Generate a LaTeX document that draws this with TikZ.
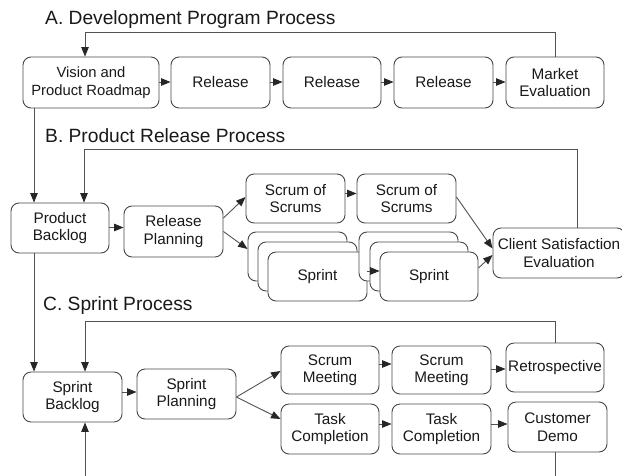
\documentclass[tikz,border=0pt]{standalone}
\usepackage{fontspec}
\setmainfont{Liberation Sans}
\usetikzlibrary{arrows.meta}
\begin{document}
\begin{tikzpicture}[x=1pt,y=-1pt,
  bx/.style={draw=black!72, line width=0.9pt, rounded corners=8pt, fill=white, inner sep=0pt,
    minimum width=99pt, minimum height=50pt, align=center,
    font=\fontsize{15.3}{17.5}\selectfont, text=black!90},
  ln/.style={draw=black!68, line width=0.9pt},
  arr/.style={ln, -{Triangle[length=9.5pt,width=7.5pt,color=black!85]}},
  ttl/.style={anchor=base west, inner sep=0pt, font=\fontsize{19.2}{22}\selectfont, text=black!90}]
\useasboundingbox (0,0) rectangle (622,475);

% titles
\node[ttl] (ta) at (45,24) {A. Development Program Process};
\node[ttl] (tb) at (45,142) {B. Product Release Process};
\node[ttl] (tc) at (43,310) {C. Sprint Process};

% helper coordinates
\coordinate (ya) at (0,32);
\coordinate (xa) at (85,0);
\coordinate (xl) at (34,0);
\coordinate (yb) at (0,149);
\coordinate (xb) at (577,0);
\coordinate (xb2) at (84,0);
\coordinate (yc) at (0,321);
\coordinate (xr) at (555,0);
\coordinate (bot) at (0,480);

% ---- A
\node[bx, minimum width=136pt, minimum height=51pt, font=\fontsize{14.8}{17.4}\selectfont] (vision) at (91,82.5) {Vision and\\Product Roadmap};
\node[bx, minimum height=51pt] (rel1) at (220.5,82.5) {Release};
\node[bx, minimum width=98pt, minimum height=51pt] (rel2) at (332,82.5) {Release};
\node[bx, minimum height=51pt] (rel3) at (443.5,82.5) {Release};
\node[bx, minimum width=98pt, minimum height=51pt] (market) at (555,82.5) {Market\\Evaluation};

\coordinate (y1) at (0,82);
\draw[arr] (vision.east |- y1) -- (rel1.west |- y1);
\draw[arr] (rel1.east |- y1) -- (rel2.west |- y1);
\draw[arr] (rel2.east |- y1) -- (rel3.west |- y1);
\draw[arr] (rel3.east |- y1) -- (market.west |- y1);
\draw[arr] (market.north) -- (market.north |- ya) -- (xa |- ya) -- (vision.north -| xa);

% ---- B
\node[bx, minimum width=98pt] (pb) at (60,228) {Product\\Backlog};
\node[bx, minimum height=51pt] (rp) at (173.5,231.5) {Release\\Planning};
\node[bx, minimum height=49pt] (sos1) at (295.5,198.5) {Scrum of\\Scrums};
\node[bx, minimum height=49pt] (sos2) at (406.5,198.5) {Scrum of\\Scrums};
\node[bx, minimum height=49pt] (s1a) at (297.5,256.5) {};
\node[bx, minimum height=49pt] (s1b) at (307.5,266.5) {};
\node[bx, minimum height=49pt] (s1c) at (317.5,276.5) {Sprint};
\node[bx, minimum height=49pt] (s2a) at (408.5,256.5) {};
\node[bx, minimum width=98pt, minimum height=49pt] (s2b) at (419,266.5) {};
\node[bx, minimum width=98pt, minimum height=49pt] (s2c) at (429,276.5) {Sprint};
\node[bx, minimum width=132pt] (cse) at (559,253) {Client Satisfaction\\Evaluation};

\draw[arr] (vision.south -| xl) -- (pb.north -| xl);
\coordinate (y2) at (0,227.5);
\draw[arr] (pb.east |- y2) -- (rp.west |- y2);
\draw[arr] ([yshift=13.5pt]rp.east) -- ([yshift=1.5pt]sos1.west);
\draw[arr] (rp.east) -- ([yshift=7.5pt]s1a.west);
\coordinate (y3) at (0,193.5);
\draw[arr] (sos1.east |- y3) -- (sos2.west |- y3);
\coordinate (y4) at (0,271);
\draw[arr] (s1c.east |- y4) -- (s2c.west |- y4);
\draw[arr] ([yshift=1.5pt]sos2.east) -- ([yshift=4.5pt]cse.west);
\draw[arr] ([yshift=8.5pt]s2c.east) -- ([yshift=-2pt]cse.west);
\draw[arr] (cse.north -| xb) -- (xb |- yb) -- (xb2 |- yb) -- (pb.north -| xb2);

% ---- C
\node[bx] (sb) at (72.5,397) {Sprint\\Backlog};
\node[bx] (sp) at (186.5,394) {Sprint\\Planning};
\node[bx, minimum width=98pt, minimum height=48pt] (sm1) at (330,370) {Scrum\\Meeting};
\node[bx, minimum height=48pt] (sm2) at (441.5,370) {Scrum\\Meeting};
\node[bx, minimum width=98pt, minimum height=49pt] (retro) at (555,367.5) {Retrospective};
\node[bx, minimum width=98pt] (tc1) at (330,429) {Task\\Completion};
\node[bx] (tc2) at (441.5,429) {Task\\Completion};
\node[bx] (cd) at (557.5,427) {Customer\\Demo};

\draw[arr] (pb.south -| xl) -- (sb.north -| xl);
\coordinate (y5) at (0,392);
\draw[arr] (sb.east |- y5) -- (sp.west |- y5);
\draw[arr] ([yshift=-3pt]sp.east) -- ([yshift=-1pt]sm1.west);
\draw[arr] ([yshift=-3pt]sp.east) -- ([yshift=10pt]tc1.west);
\coordinate (y6) at (0,364);
\draw[arr] (sm1.east |- y6) -- (sm2.west |- y6);
\coordinate (y7) at (0,369);
\draw[arr] (sm2.east |- y7) -- (retro.west |- y7);
\coordinate (y8) at (0,424);
\draw[arr] (tc1.east |- y8) -- (tc2.west |- y8);
\draw[arr] (tc2.east |- y8) -- (cd.west |- y8);
\draw[arr] (retro.north -| xr) -- (xr |- yc) -- (xa |- yc) -- (sb.north -| xa);
\draw[ln] (cd.south -| xr) -- (xr |- bot);
\draw[arr] (xa |- bot) -- (sb.south -| xa);
\end{tikzpicture}
\end{document}
